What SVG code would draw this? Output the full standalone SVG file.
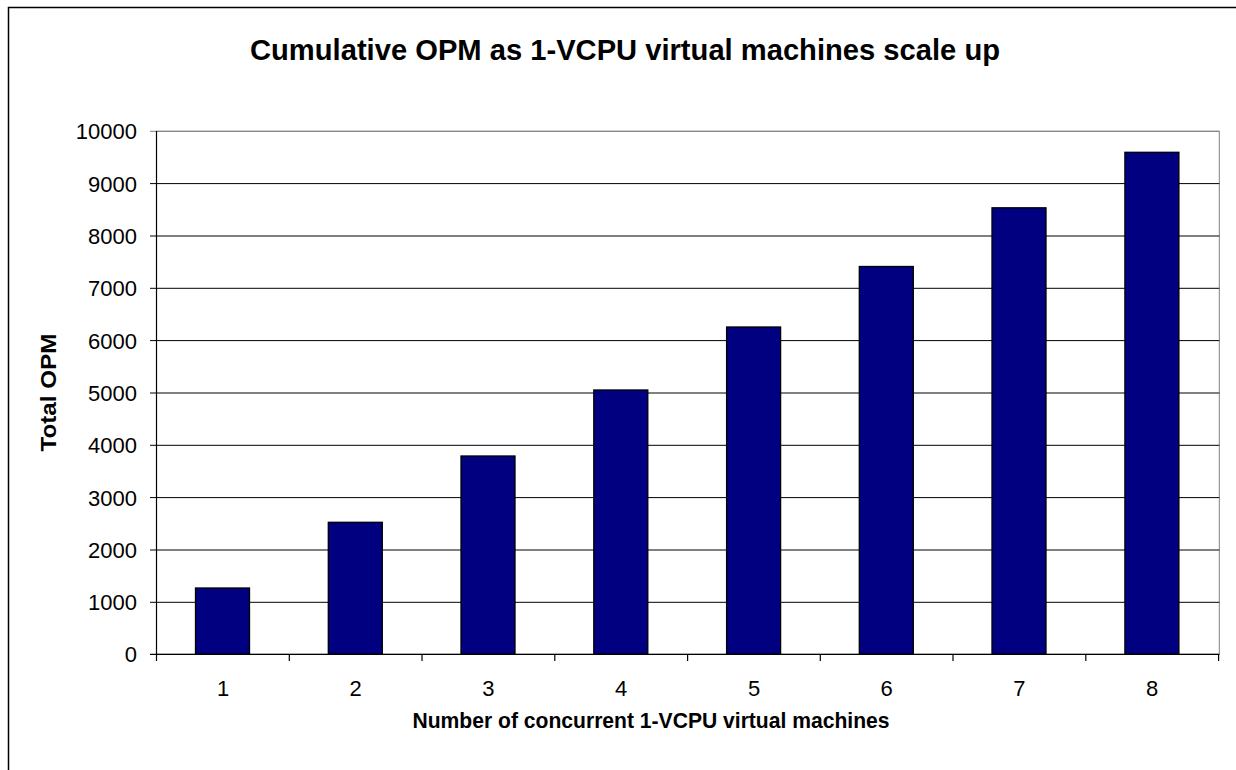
<svg xmlns="http://www.w3.org/2000/svg" width="1236" height="770" viewBox="0 0 1236 770">
<style>
.t{font-family:"Liberation Sans",Arial,sans-serif;fill:#000}
.tick{font-size:22px}
.bold{font-weight:bold}
.grid{stroke:#000;stroke-width:1}
.bar{fill:#000080;stroke:#000;stroke-width:1.3}
</style>
<rect width="1236" height="770" fill="#fff"/>
<rect x="8.5" y="7.5" width="1300" height="800" fill="none" stroke="#000" stroke-width="1.5"/>
<g id="title"><text class="t bold" x="625" y="60" font-size="29" text-anchor="middle" textLength="750" lengthAdjust="spacingAndGlyphs">Cumulative OPM as 1-VCPU virtual machines scale up</text></g>
<g id="plot">
<rect x="156.5" y="131.3" width="1062.8" height="523" fill="#fff" stroke="#808080" stroke-width="1"/>
<g class="grid">
<line x1="150" y1="131.3" x2="1219.3" y2="131.3" stroke="#808080"/>
<line x1="150" y1="183.6" x2="1219.3" y2="183.6"/>
<line x1="150" y1="236" x2="1219.3" y2="236"/>
<line x1="150" y1="288.3" x2="1219.3" y2="288.3"/>
<line x1="150" y1="340.6" x2="1219.3" y2="340.6"/>
<line x1="150" y1="393" x2="1219.3" y2="393"/>
<line x1="150" y1="445.3" x2="1219.3" y2="445.3"/>
<line x1="150" y1="497.6" x2="1219.3" y2="497.6"/>
<line x1="150" y1="550" x2="1219.3" y2="550"/>
<line x1="150" y1="602.3" x2="1219.3" y2="602.3"/>
</g>
</g>
<g id="bars">
<rect class="bar" x="195.5" y="588" width="54" height="66.3"/>
<rect class="bar" x="328.3" y="522.3" width="54" height="132"/>
<rect class="bar" x="461" y="456" width="54" height="198.3"/>
<rect class="bar" x="593.8" y="390" width="54" height="264.3"/>
<rect class="bar" x="726.6" y="327" width="54" height="327.3"/>
<rect class="bar" x="859.3" y="266.5" width="54" height="387.8"/>
<rect class="bar" x="992" y="207.8" width="54" height="446.5"/>
<rect class="bar" x="1124.9" y="152.3" width="54" height="502"/>
</g>
<g id="axes" stroke="#000" stroke-width="1.2">
<line x1="156.5" y1="131" x2="156.5" y2="655"/>
<line x1="150" y1="654.3" x2="1219.3" y2="654.3"/>
<line x1="156.5" y1="654" x2="156.5" y2="661"/>
<line x1="289.3" y1="654" x2="289.3" y2="661"/>
<line x1="422" y1="654" x2="422" y2="661"/>
<line x1="554.8" y1="654" x2="554.8" y2="661"/>
<line x1="687.6" y1="654" x2="687.6" y2="661"/>
<line x1="820.3" y1="654" x2="820.3" y2="661"/>
<line x1="953" y1="654" x2="953" y2="661"/>
<line x1="1085.8" y1="654" x2="1085.8" y2="661"/>
<line x1="1218.6" y1="654" x2="1218.6" y2="661"/>
</g>
<g id="ylabels" class="t tick" text-anchor="end">
<text x="137" y="139.3">10000</text>
<text x="137" y="191.6">9000</text>
<text x="137" y="244">8000</text>
<text x="137" y="296.3">7000</text>
<text x="137" y="348.6">6000</text>
<text x="137" y="401">5000</text>
<text x="137" y="453.3">4000</text>
<text x="137" y="505.6">3000</text>
<text x="137" y="558">2000</text>
<text x="137" y="610.3">1000</text>
<text x="137" y="662.3">0</text>
</g>
<g id="xlabels" class="t tick" text-anchor="middle">
<text x="223" y="696">1</text>
<text x="355.7" y="696">2</text>
<text x="488.4" y="696">3</text>
<text x="621.2" y="696">4</text>
<text x="754" y="696">5</text>
<text x="886.7" y="696">6</text>
<text x="1019.4" y="696">7</text>
<text x="1152.2" y="696">8</text>
</g>
<g id="ytitle"><text class="t bold" x="0" y="0" font-size="22" text-anchor="middle" textLength="118" lengthAdjust="spacingAndGlyphs" transform="translate(56,392.5) rotate(-90)">Total OPM</text></g>
<g id="xtitle"><text class="t bold" x="651" y="728" font-size="22" text-anchor="middle" textLength="477" lengthAdjust="spacingAndGlyphs">Number of concurrent 1-VCPU virtual machines</text></g>
</svg>
